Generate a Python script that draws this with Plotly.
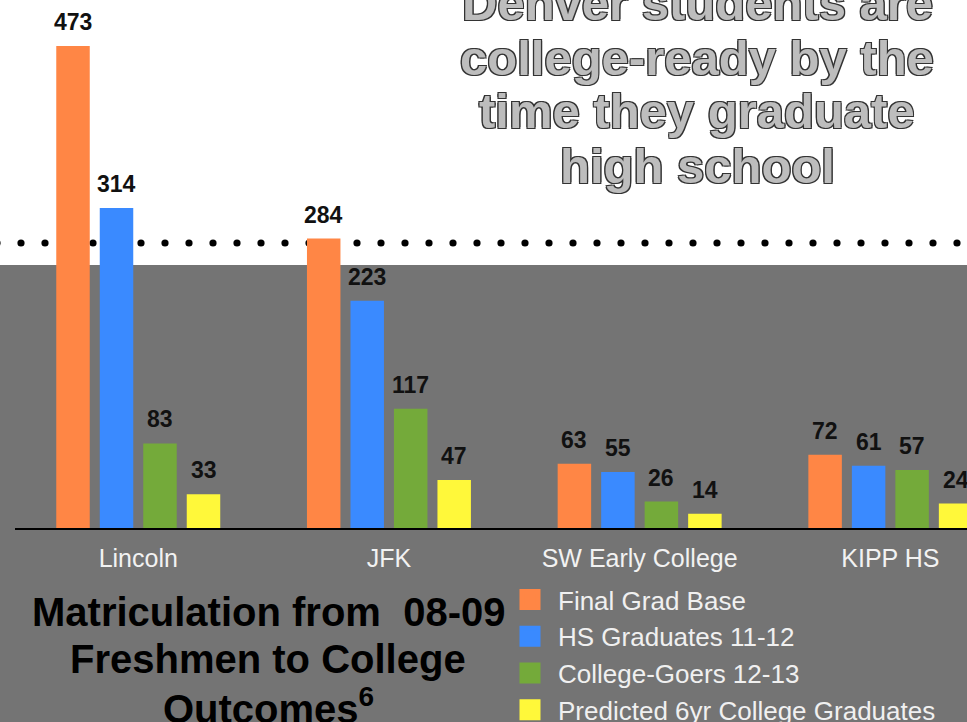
import numpy as np
import plotly.graph_objects as go

# ---------------- data ----------------
schools = ["Lincoln", "JFK", "SW Early College", "KIPP HS"]
series_names = ["Final Grad Base", "HS Graduates 11-12", "College-Goers 12-13",
                "Predicted 6yr College Graduates"]
final_grad_base = [473, 284, 63, 72]
hs_graduates = [314, 223, 55, 61]
college_goers = [83, 117, 26, 57]
predicted_grads = [33, 47, 14, 24]
series_values = [final_grad_base, hs_graduates, college_goers, predicted_grads]
colors = ["#FF8645", "#3A8AFF", "#74AA3A", "#FFF83A"]

title_lines = ["Denver students are", "college-ready by the",
               "time they graduate", "high school"]
caption_lines = ["Matriculation from  08-09", "Freshmen to College",
                 "Outcomes<sup>6</sup>"]

# ---------------- layout geometry (pixels) ----------------
W, H = 967, 722
ML, MR, MT = 15, 0, 0
BASE = 528                      # pixel row of the bar baseline
MB = H - BASE
PW = W - ML - MR
PH = BASE - MT
CAT_PX = 250.7                  # pixels per category
CAT0_PX = 138.25                # pixel centre of first category
SLOT_PX = 43.5                  # pixels per bar slot
PX_PER_UNIT = 1.019

x0 = -(CAT0_PX - ML) / CAT_PX
x1 = x0 + PW / CAT_PX
y_top = PH / PX_PER_UNIT


def px2x(px):
    return (px - ML) / PW


def py2y(py):
    return (BASE - py) / PH


fig = go.Figure()

# legend proxies (bigger squares than bar legend symbols)
for name, col in zip(series_names, colors):
    fig.add_trace(go.Scatter(
        x=[None], y=[None], mode="markers", name=name, legendgroup=name,
        marker=dict(symbol="square", size=16, color=col,
                    line=dict(width=5, color=col)),
        hoverinfo="skip"))

for name, vals, col in zip(series_names, series_values, colors):
    fig.add_trace(go.Bar(
        x=schools, y=vals, name=name, marker_color=col,
        marker_line_width=0, showlegend=False, legendgroup=name))

# value labels
annotations = []
for j, vals in enumerate(series_values):
    for s, v in zip(schools, vals):
        annotations.append(dict(
            x=s, y=v, xref="x", yref="y", text=str(v), showarrow=False,
            xshift=(j - 1.5) * SLOT_PX, yshift=24, yanchor="middle",
            font=dict(family="Liberation Sans, Arial", size=23,
                      color="#111111", weight="bold")))

# title (chalk sketch style)
title_baselines = [20, 75, 128, 183]
outline = ("1.2px 1.2px 0 #333, -1.2px -1.2px 0 #333, "
           "1.2px -1.2px 0 #333, -1.2px 1.2px 0 #333")
for line, bl in zip(title_lines, title_baselines):
    annotations.append(dict(
        x=px2x(697), y=py2y(bl - 17), xref="paper", yref="paper",
        text=line, showarrow=False, xanchor="center", yanchor="middle",
        font=dict(family="Liberation Sans, Arial", size=49,
                  color="#bdbdbd", weight="bold", shadow=outline)))

# caption bottom-left
cap_baselines = [626, 673, 720]
for line, bl in zip(caption_lines, cap_baselines):
    annotations.append(dict(
        x=px2x(268), y=py2y(bl - 14), xref="paper", yref="paper",
        text=line, showarrow=False, xanchor="center", yanchor="middle",
        font=dict(family="Liberation Sans, Arial", size=40,
                  color="#000000", weight="bold")))

# background shapes
shapes = [dict(type="rect", xref="paper", yref="paper",
               x0=-0.05, x1=1.05, y0=py2y(265), y1=py2y(-5),
               fillcolor="white", line_width=0, layer="below")]
r = 3.6
for cx in np.arange(-3, W + 12, 24):
    shapes.append(dict(type="circle", xref="paper", yref="paper",
                       x0=px2x(cx - r), x1=px2x(cx + r),
                       y0=py2y(243 + r), y1=py2y(243 - r),
                       fillcolor="black", line_width=0, layer="below"))

fig.update_layout(
    width=W, height=H,
    margin=dict(l=ML, r=MR, t=MT, b=MB, pad=0, autoexpand=False),
    paper_bgcolor="#747474", plot_bgcolor="rgba(0,0,0,0)",
    barmode="group", bargap=0.306, bargroupgap=0.23,
    showlegend=True,
    legend=dict(x=px2x(502), y=py2y(576), xanchor="left", yanchor="top",
                bgcolor="rgba(0,0,0,0)", traceorder="grouped",
                tracegroupgap=0, itemwidth=46,
                font=dict(family="Liberation Sans, Arial", size=26,
                          color="#f0f0f0")),
    annotations=annotations, shapes=shapes,
    xaxis=dict(type="category", categoryorder="array", categoryarray=schools,
               range=[x0, x1], showline=True, linecolor="black",
               linewidth=2, showgrid=False, zeroline=False,
               ticks="outside", ticklen=7, tickcolor="rgba(0,0,0,0)",
               tickfont=dict(family="Liberation Sans, Arial", size=25,
                             color="#f2f2f2")),
    yaxis=dict(range=[0, y_top], visible=False, showgrid=False,
               zeroline=False),
    hovermode=False,
)

fig.write_html("out.html")
